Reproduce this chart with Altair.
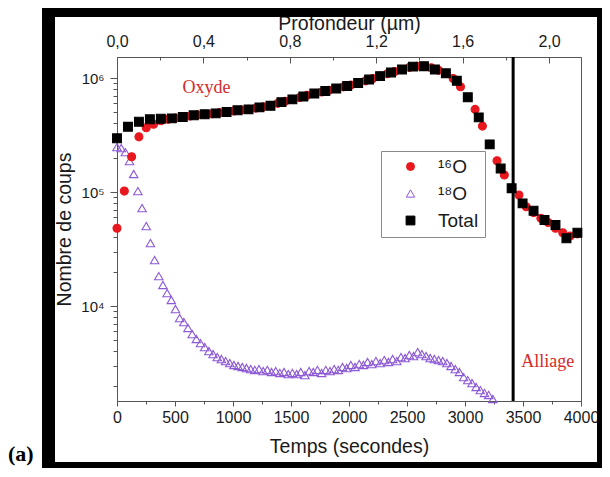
import altair as alt
import pandas as pd

# ---------------- data ----------------
STEP_TOTAL = 94.5   # s between "Total" points
STEP_O16 = 63.0     # s between 16O points
STEP_O18 = 36.0     # s between 18O points

total_counts = [296000, 374000, 414000, 435000, 440000, 443000, 455000, 471000, 481000, 490000,
                504000, 521000, 531000, 553000, 571000, 615000, 650000, 689000, 731000, 769000,
                809000, 851000, 904000, 970000, 1040000, 1120000, 1190000, 1260000, 1270000, 1190000,
                1100000, 947000, 678000, 452000, 262000, 161000, 108000, 79600, 68600, 56800,
                51400, 39300, 44000]

o16_counts = [48100, 102000, 204000, 305000, 366000, 394000, 422000, 435000, 445000, 455000,
              465000, 475000, 481000, 487000, 497000, 504000, 515000, 525000, 531000, 545000,
              560000, 571000, 600000, 625000, 650000, 675000, 705000, 731000, 755000, 782000,
              809000, 837000, 870000, 904000, 945000, 990000, 1040000, 1090000, 1140000, 1190000,
              1240000, 1270000, 1270000, 1230000, 1170000, 1100000, 990000, 839000, 678000, 531000,
              379000, 262000, 188000, 141000, 108000, 94200, 74300, 66000, 59000, 54000,
              48100, 44000, 41100, 43000]

o18_counts = [248000, 243000, 224000, 187000, 144000, 102000, 72400, 50300, 35700, 25300,
              18300, 15300, 13000, 11300, 9420, 7850, 7240, 6420, 5680, 5140,
              4730, 4370, 4030, 3790, 3570, 3430, 3290, 3160, 3040, 2980,
              2920, 2860, 2800, 2750, 2800, 2690, 2750, 2640, 2690, 2590,
              2640, 2530, 2590, 2530, 2640, 2480, 2690, 2640, 2750, 2590,
              2750, 2690, 2800, 2750, 2920, 2860, 3040, 2920, 3100, 3040,
              3230, 3100, 3290, 3160, 3360, 3230, 3430, 3290, 3570, 3500,
              3720, 3640, 3950, 3790, 3640, 3500, 3430, 3360, 3290, 3160,
              2980, 2800, 2640, 2380, 2240, 2110, 1950, 1830, 1730, 1660,
              1530]

series_names = ["\u00b9\u2076O", "\u00b9\u2078O", "Total"]
series_shapes = ["circle", "triangle-up", "square"]
RED = "#e8181e"
PURPLE = "#8d5ad6"
series_stroke = [RED, PURPLE, "#000000"]
series_fill = [RED, "transparent", "#000000"]
series_size = [64, 78, 50]

time_ticks = [0, 500, 1000, 1500, 2000, 2500, 3000, 3500, 4000]
time_minor = [250, 750, 1250, 1750, 2250, 2750, 3250, 3750]
count_ticks = [1e4, 1e5, 1e6]
count_minor = [2000, 3000, 4000, 5000, 6000, 7000, 8000, 9000,
               20000, 30000, 40000, 50000, 60000, 70000, 80000, 90000,
               200000, 300000, 400000, 500000, 600000, 700000, 800000, 900000]
depth_ticks = [0.0, 0.4, 0.8, 1.2, 1.6, 2.0]
depth_minor = [0.2, 0.6, 1.0, 1.4, 1.8]

ALLOY_TIME = 3415
ann_time = [771, 3713]
ann_count = [817000, 3230]
ann_text = ["Oxyde", "Alliage"]

T_DOMAIN = [0, 4000]
C_DOMAIN = [1470, 1530000]
D_DOMAIN = [0, 2.148]

# ---------------- tables ----------------
rows = []
for k, v in enumerate(o18_counts):
    rows.append({"t": k * STEP_O18, "c": v, "s": series_names[1]})
for j, v in enumerate(o16_counts):
    rows.append({"t": j * STEP_O16, "c": v, "s": series_names[0]})
for i, v in enumerate(total_counts):
    rows.append({"t": i * STEP_TOTAL, "c": v, "s": series_names[2]})
df = pd.DataFrame(rows)

FONT = "Liberation Sans"
TXT = "#1a1a1a"
AX = "#555555"

xs = alt.Scale(domain=T_DOMAIN, nice=False, zero=False)
ys = alt.Scale(type="log", domain=C_DOMAIN, nice=False)

legend = alt.Legend(orient="none", legendX=264, legendY=94, fillColor="white",
                    strokeColor="#8a8a8a", padding=6, labelFont=FONT, labelFontSize=19,
                    labelColor=TXT, symbolStrokeWidth=1, rowPadding=7,
                    symbolOffset=14, labelOffset=18)

points = alt.Chart(df).mark_point(filled=False, strokeWidth=1.1, opacity=1).encode(
    x=alt.X("t:Q", scale=xs, axis=alt.Axis(
        orient="bottom", values=time_ticks, format="d", labelFont=FONT, labelFontSize=16,
        labelColor=TXT, tickSize=5, tickColor=AX, domainColor=AX, labelPadding=3,
        labelFlush=False, labelOverlap=False, grid=False,
        title="Temps (secondes)", titleFont=FONT, titleFontSize=19.5, titleFontWeight="normal",
        titleColor=TXT, titlePadding=12)),
    y=alt.Y("c:Q", scale=ys, axis=alt.Axis(
        orient="left", values=count_ticks,
        labelExpr="'10' + (datum.value > 5e5 ? '\u2076' : datum.value > 5e4 ? '\u2075' : '\u2074')",
        labelFont=FONT, labelFontSize=15, labelColor=TXT, tickSize=7, tickColor=AX,
        domainColor=AX, labelPadding=6, labelOverlap=False, grid=False,
        title="Nombre de coups", titleFont=FONT, titleFontSize=19.5, titleFontWeight="normal",
        titleColor=TXT, titlePadding=6)),
    shape=alt.Shape("s:N", scale=alt.Scale(domain=series_names, range=series_shapes), title=None, legend=legend),
    color=alt.Color("s:N", scale=alt.Scale(domain=series_names, range=series_stroke), title=None, legend=legend),
    fill=alt.Fill("s:N", scale=alt.Scale(domain=series_names, range=series_fill), title=None, legend=legend),
    size=alt.Size("s:N", scale=alt.Scale(domain=series_names, range=series_size), title=None, legend=legend),
)

minor = alt.Chart(df).mark_point(opacity=0).encode(
    x=alt.X("t:Q", scale=xs, axis=alt.Axis(orient="bottom", values=time_minor, labels=False,
                                            domain=False, tickSize=3, tickColor=AX, title=None, grid=False)),
    y=alt.Y("c:Q", scale=ys, axis=alt.Axis(orient="left", values=count_minor, labels=False,
                                            domain=False, tickSize=4, tickColor=AX, title=None, grid=False)),
)

depth_df = pd.DataFrame({"d": depth_ticks})
top_axis = alt.Chart(depth_df).mark_point(opacity=0).encode(
    x=alt.X("d:Q", scale=alt.Scale(domain=D_DOMAIN, nice=False, zero=False), axis=alt.Axis(
        orient="top", values=depth_ticks, offset=-6, tickSize=6, domain=False, tickColor=AX,
        labelExpr="replace(format(datum.value, '.1f'), '.', ',')",
        labelFont=FONT, labelFontSize=16, labelColor=TXT, labelPadding=8,
        labelFlush=False, labelOverlap=False, grid=False,
        title="Profondeur (\u00b5m)", titleFont=FONT, titleFontSize=19.5, titleFontWeight="normal",
        titleColor=TXT, titlePadding=0)),
)
depth_minor_df = pd.DataFrame({"d": depth_minor})
top_minor = alt.Chart(depth_minor_df).mark_point(opacity=0).encode(
    x=alt.X("d:Q", scale=alt.Scale(domain=D_DOMAIN, nice=False, zero=False), axis=alt.Axis(
        orient="top", values=depth_minor, offset=-3, tickSize=3, domain=False, tickColor=AX,
        labels=False, title=None, grid=False)),
)

rule = alt.Chart(pd.DataFrame({"t": [ALLOY_TIME]})).mark_rule(color="black", strokeWidth=3).encode(
    x=alt.X("t:Q", scale=xs, axis=None))

ann_df = pd.DataFrame({"t": ann_time, "c": ann_count, "label": ann_text})
ann = alt.Chart(ann_df).mark_text(font="Liberation Serif", fontSize=18, color="#d42a2a").encode(
    x=alt.X("t:Q", scale=xs, axis=None),
    y=alt.Y("c:Q", scale=ys, axis=None),
    text="label:N")

one = pd.DataFrame({"v": [0]})
def bar(x1, x2, y1, y2):
    return alt.Chart(one).mark_rect(color="black").encode(
        x=alt.value(x1), x2=alt.value(x2), y=alt.value(y1), y2=alt.value(y2))

frame = [bar(-75, -62, -53, 420), bar(-75, 490, -53, -40), bar(480, 490, -53, 420), bar(-75, 490, 405, 420)]

panel_label = alt.Chart(pd.DataFrame({"label": ["(a)"]})).mark_text(
    font="Liberation Serif", fontSize=22, fontWeight="bold", color="black", align="left",
    baseline="alphabetic").encode(x=alt.value(-109), y=alt.value(404), text="label:N")

chart = alt.layer(points, minor, top_axis, top_minor, rule, ann, *frame, panel_label).resolve_scale(
    x="independent", y="independent", shape="shared", color="shared", fill="shared", size="shared"
).properties(
    width=464, height=344,
    autosize=alt.AutoSizeParams(type="none"),
    padding={"left": 109, "top": 49, "right": 21, "bottom": 67},
).configure(background="white", font=FONT).configure_view(stroke=AX, strokeWidth=1)

chart.save("out.html", embed_options={"renderer": "svg", "actions": False})
